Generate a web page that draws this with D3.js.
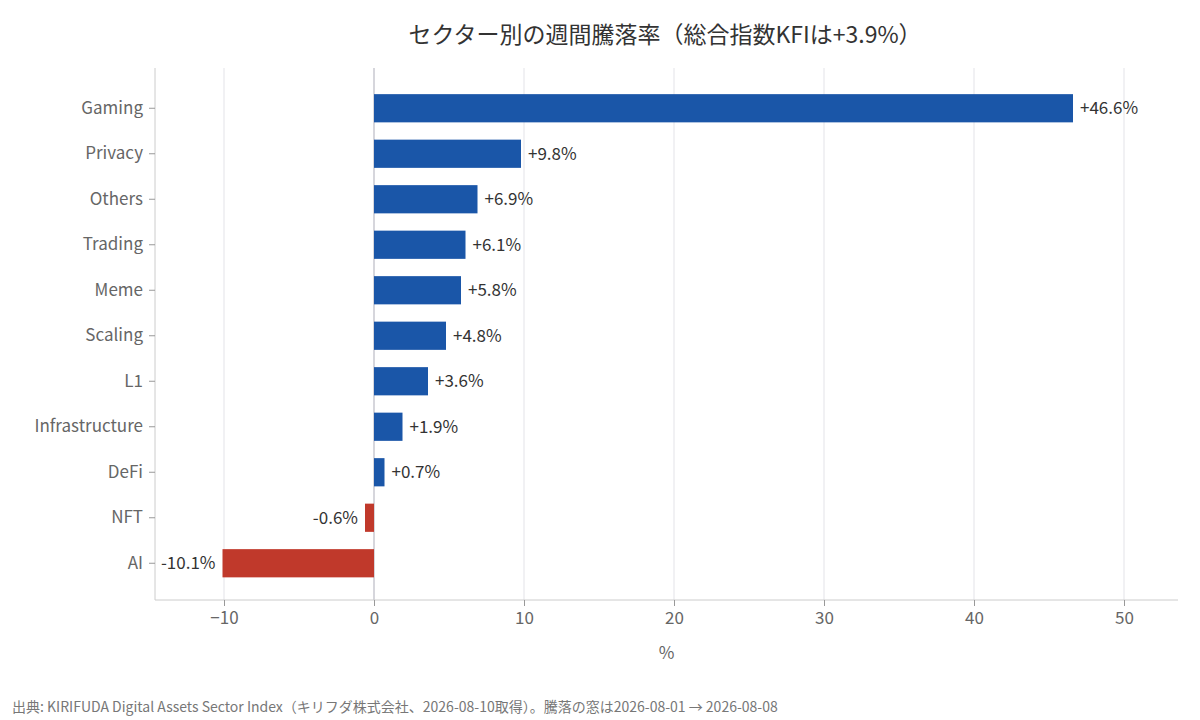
<!DOCTYPE html>
<html><head><meta charset="utf-8">
<script src="https://cdn.jsdelivr.net/npm/d3@7"></script>
<style>body{margin:0;background:#fff;font-family:"Noto Sans CJK JP","Noto Sans",sans-serif;}</style>
</head><body><svg id="c" width="1200" height="720"></svg>
<script>
const categories=["Gaming","Privacy","Others","Trading","Meme","Scaling","L1","Infrastructure","DeFi","NFT","AI"];
const values=[46.6,9.8,6.9,6.1,5.8,4.8,3.6,1.9,0.7,-0.6,-10.1];
const xTicks=[-10,0,10,20,30,40,50];
const title="セクター別の週間騰落率（総合指数KFIは+3.9%）";
const footer="出典: KIRIFUDA Digital Assets Sector Index（キリフダ株式会社、2026-08-10取得）。騰落の窓は2026-08-01 → 2026-08-08";
const svg=d3.select("#c");
const L=155,R=1178,T=68,B=600;
const x=d3.scaleLinear().domain([-14.6,53.6]).range([L,R]);
const y=d3.scaleBand().domain(categories).range([85.5,586]).paddingInner(0.38).paddingOuter(0.19);
svg.append("g").selectAll("line").data(xTicks).join("line")
 .attr("x1",d=>x(d)).attr("x2",d=>x(d)).attr("y1",T).attr("y2",B)
 .attr("stroke",d=>d===0?"#c8c8d0":"#e3e3e8").attr("stroke-width",d=>d===0?1.5:1);
svg.append("line").attr("x1",L).attr("x2",L).attr("y1",T).attr("y2",B).attr("stroke","#ccc");
svg.append("line").attr("x1",L).attr("x2",R).attr("y1",B).attr("y2",B).attr("stroke","#ccc");
svg.append("g").selectAll("rect").data(values).join("rect")
 .attr("x",d=>x(Math.min(0,d))).attr("width",d=>Math.abs(x(d)-x(0)))
 .attr("y",(d,i)=>y(categories[i])).attr("height",y.bandwidth())
 .attr("fill",d=>d>=0?"#1a56a8":"#c0392b");
svg.append("g").selectAll("text").data(values).join("text")
 .attr("x",d=>d>=0?x(d)+7:x(d)-7).attr("y",(d,i)=>y(categories[i])+y.bandwidth()/2)
 .attr("dy","0.35em").attr("text-anchor",d=>d>=0?"start":"end")
 .attr("font-size",17).attr("fill","#333").text(d=>(d>=0?"+":"")+d.toFixed(1)+"%");
const ya=svg.append("g").attr("transform",`translate(${L},0)`).call(d3.axisLeft(y).tickSize(6).tickPadding(6));
ya.select(".domain").remove();
ya.selectAll("line").attr("stroke","#999");
ya.selectAll("text").attr("font-size",17).attr("fill","#666").attr("font-family","Noto Sans CJK JP");
const xa=svg.append("g").attr("transform",`translate(0,${B})`).call(d3.axisBottom(x).tickValues(xTicks).tickSize(6).tickPadding(6));
xa.select(".domain").remove();
xa.selectAll("line").attr("stroke","#999");
xa.selectAll("text").attr("font-size",17).attr("fill","#666").attr("font-family","Noto Sans CJK JP");
svg.append("text").attr("x",x(0)+(x(50)-x(0))*0+ (L+R)/2-x(0)).attr("y",659).attr("text-anchor","middle").attr("font-size",17).attr("fill","#666").text("%");
svg.append("text").attr("x",665).attr("y",43).attr("text-anchor","middle").attr("font-size",23).attr("fill","#333").text(title);
svg.append("text").attr("x",12).attr("y",712).attr("font-size",14).attr("fill","#777").text(footer);
</script></body></html>
